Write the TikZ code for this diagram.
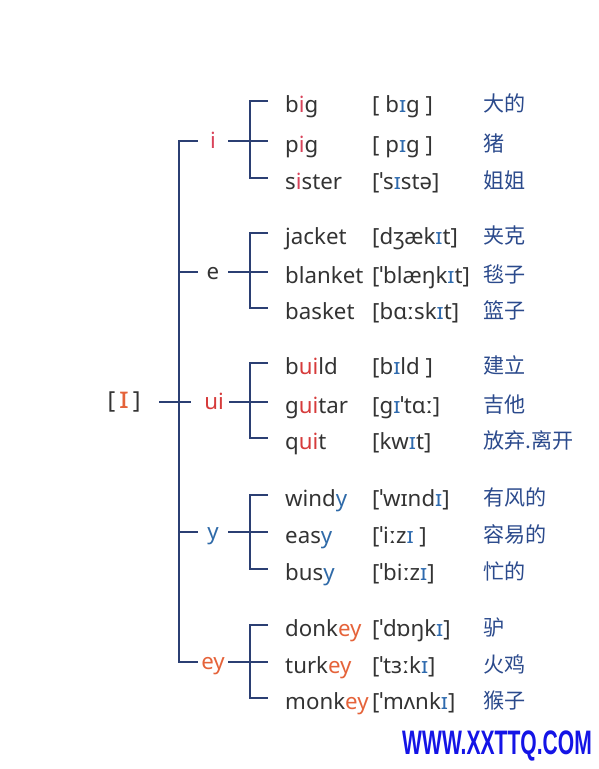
\documentclass[tikz,border=0pt]{standalone}
\usepackage{fontspec}
\setmainfont{Noto Sans}
\newfontfamily\cjk{Noto Sans CJK SC}
\newfontfamily\wmfont{Liberation Sans}
\usetikzlibrary{calc}

\definecolor{linec}{HTML}{2B3F73}
\definecolor{inkc}{HTML}{333333}
\definecolor{ic}{HTML}{D9435A}
\definecolor{uic}{HTML}{D63B3B}
\definecolor{yc}{HTML}{2F6AA8}
\definecolor{eyc}{HTML}{E5633A}
\definecolor{ipac}{HTML}{2E6AAE}
\definecolor{cnc}{HTML}{2B4A8C}
\definecolor{wmc}{HTML}{1414E6}

\newcommand\hl[2]{\textcolor{#1}{#2}}
\newcommand\vI{\textcolor{ipac}{\textbf{ɪ}}}

\tikzset{
	conn/.style={linec,line width=1.4pt},
	wordtxt/.style={anchor=west,inner sep=0pt,text height=20pt,text depth=0pt,text=inkc,font=\fontsize{19}{22}\selectfont},
	word/.style={wordtxt},
	phon/.style={wordtxt},
	mean/.style={wordtxt,text height=18pt,text=cnc,font=\cjk\fontsize{18}{22}\selectfont},
	grp/.style={minimum width=25.6pt,inner sep=0pt,text height=12pt,text depth=0pt,font=\fontsize{19}{22}\selectfont},
	wm/.style={text=wmc,font=\wmfont\bfseries\fontsize{29}{30}\selectfont},
}

% one row: name, y, word, sound, meaning
\newcommand\wordrow[5]{%
	\node[word] (#1) at (285,#2) {#3};
	\node[phon] (#1p) at (372,#2) {#4};
	\node[mean] (#1c) at (483,#2) {#5};}

% label, first, middle, last word
\newcommand\wordbracket[4]{%
	\draw[conn] (#1.east) -- ($(#3.west)+(-17,0)$);
	\draw[conn] ($(#2.west)+(-17,0)$) -- ($(#2.west)+(-35,0)$) -- ($(#4.west)+(-35,0)$) -- ($(#4.west)+(-17,0)$);}

\begin{document}
\begin{tikzpicture}[x=0.03cm,y=-0.03cm]
	\useasboundingbox (0,0) rectangle (599,769);
	\node[inner sep=0pt,text=inkc,font=\fontsize{20}{22}\selectfont] (root) at (124,402) {[\,\hl{eyc}{\fontsize{26}{26}\selectfont ɪ}\,]};
	\coordinate (spine) at (179,402);
	\node[grp,text=ic] (gi) at (213,141) {i};
	\node[grp,text=inkc] (ge) at (213,272) {e};
	\node[grp,text=uic] (gui) at (214,402) {ui};
	\node[grp,text=yc] (gy) at (213,532) {y};
	\node[grp,text=eyc] (gey) at (213,662) {ey};
	\draw[conn] (gi.west) -- (gi.west -| spine) -- (gey.west -| spine) -- (gey.west);
	\draw[conn] (ge.west -| spine) -- (ge.west);
	\draw[conn] (gy.west -| spine) -- (gy.west);
	\draw[conn,shorten <=16pt,shorten >=7pt] (root.east) -- (gui.west);
	% i
	\wordrow{big}{101}{b\hl{ic}{i}g}{[ b\vI g ]}{大的}
	\wordrow{pig}{141}{p\hl{ic}{i}g}{[ p\vI g ]}{猪}
	\wordrow{sister}{178}{s\hl{ic}{i}ster}{[ˈs\vI stə]}{姐姐}
	\wordbracket{gi}{big}{pig}{sister}
	% e
	\wordrow{jacket}{233}{jacket}{[dʒæk\vI t]}{夹克}
	\wordrow{blanket}{272}{blanket}{[ˈblæŋk\vI t]}{毯子}
	\wordrow{basket}{308}{basket}{[bɑːsk\vI t]}{篮子}
	\wordbracket{ge}{jacket}{blanket}{basket}
	% ui
	\wordrow{build}{363}{b\hl{uic}{ui}ld}{[b\vI ld ]}{建立}
	\wordrow{guitar}{402}{g\hl{uic}{ui}tar}{[g\vI ˈtɑː]}{吉他}
	\wordrow{quit}{438}{q\hl{uic}{ui}t}{[kw\vI t]}{放弃.离开}
	\wordbracket{gui}{build}{guitar}{quit}
	% y
	\wordrow{windy}{495}{wind\hl{yc}{y}}{[ˈwɪnd\vI]}{有风的}
	\wordrow{easy}{532}{eas\hl{yc}{y}}{[ˈiːz\vI\ ]}{容易的}
	\wordrow{busy}{569}{bus\hl{yc}{y}}{[ˈbiːz\vI]}{忙的}
	\wordbracket{gy}{windy}{easy}{busy}
	% ey
	\wordrow{donkey}{625}{donk\hl{eyc}{ey}}{[ˈdɒŋk\vI]}{驴}
	\wordrow{turkey}{662}{turk\hl{eyc}{ey}}{[ˈtɜːk\vI]}{火鸡}
	\wordrow{monkey}{698}{monk\hl{eyc}{ey}}{[ˈmʌnk\vI]}{猴子}
	\wordbracket{gey}{donkey}{turkey}{monkey}
	\node[wm] (site) at (497,746) {\scalebox{0.62}[1]{WWW.XXTTQ.COM}};
\end{tikzpicture}
\end{document}
